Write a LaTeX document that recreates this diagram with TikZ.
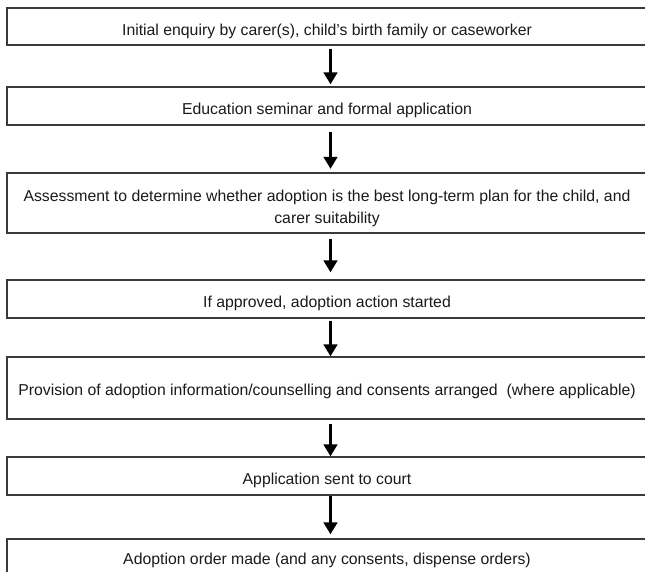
\documentclass[tikz,border=0pt]{standalone}
\usepackage{fontspec}
\setmainfont{Liberation Sans}
\usetikzlibrary{arrows.meta,calc}
\definecolor{boxline}{HTML}{3A3A3A}
\definecolor{ink}{HTML}{1A1A1A}

\begin{document}
\begin{tikzpicture}[x=1pt,y=-1pt,
  stagebox/.style={draw=boxline, line width=1.3pt, rectangle,
    minimum width=640pt, minimum height=38pt, inner sep=0pt,
    font=\fontsize{15.8}{22}\selectfont, text=ink,
    text height=17pt, text depth=0pt, align=center},
  flow/.style={draw=black, line width=3pt,
    -{Triangle[width=13.5pt,length=12pt]}},
]
\useasboundingbox (0,0) rectangle (645,571);
\clip (0,0) rectangle (645,571);

% process stages, top to bottom
\node[stagebox, minimum height=37pt] (b1) at (327,26.5)
  {Initial enquiry by carer(s), child’s birth family or caseworker};
\node[stagebox] (b2) at (327,106)
  {Education seminar and formal application};
\node[stagebox, minimum height=60pt, text height=42pt, text depth=1pt] (b3) at (327,203)
  {Assessment to determine whether adoption is the best long-term plan for the child, and\\carer suitability};
\node[stagebox] (b4) at (327,299)
  {If approved, adoption action started};
\node[stagebox, minimum height=62pt, text height=16pt, text depth=0.5pt] (b5) at (327,388)
  {Provision of adoption information/counselling and consents arranged\ \ (where applicable)};
\node[stagebox] (b6) at (327,476)
  {Application sent to court};
\node[stagebox, minimum height=36pt, text height=14pt] (b7) at (327,557)
  {Adoption order made (and any consents, dispense orders)};

% arrows between consecutive stages
\draw[flow, shorten <=3pt, shorten >=2pt]
  ($(b1.south)+(3.5,0)$) -- ($(b2.north)+(3.5,0)$);
\draw[flow, shorten <=6pt, shorten >=3.5pt]
  ($(b2.south)+(3.5,0)$) -- ($(b3.north)+(3.5,0)$);
\draw[flow, shorten <=5pt, shorten >=7pt]
  ($(b3.south)+(3.5,0)$) -- ($(b4.north)+(3.5,0)$);
\draw[flow, shorten <=2pt, shorten >=0pt]
  ($(b4.south)+(3.5,0)$) -- ($(b5.north)+(3.5,0)$);
\draw[flow, shorten <=4pt, shorten >=0pt]
  ($(b5.south)+(3.5,0)$) -- ($(b6.north)+(3.5,0)$);
\draw[flow, shorten <=0pt, shorten >=4pt]
  ($(b6.south)+(3.5,0)$) -- ($(b7.north)+(3.5,0)$);
\end{tikzpicture}
\end{document}
